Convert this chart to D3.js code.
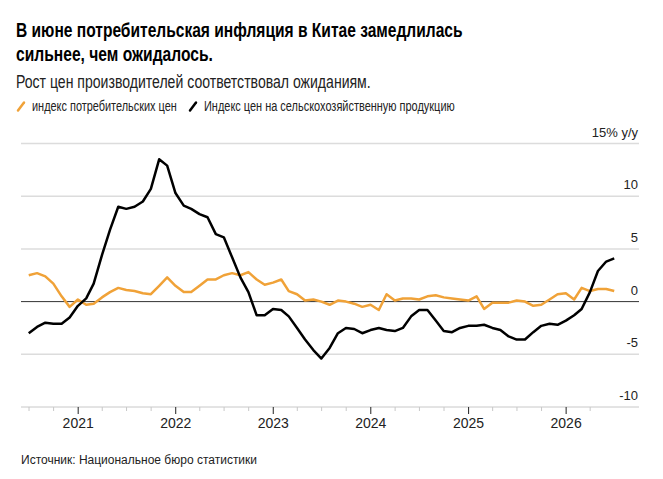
<!DOCTYPE html>
<html>
<head>
<meta charset="utf-8">
<script src="https://cdn.jsdelivr.net/npm/d3@7"></script>
<style>
  body { margin: 0; background: #fff; }
  svg { display: block; }
  .narrow { font-family: 'Liberation Sans', Arial, sans-serif; }
  .reg { font-family: 'Liberation Sans', Arial, sans-serif; }
</style>
</head>
<body>
<svg></svg>
<script>
// monthly values, Jun 2020 .. Jun 2026
const firstMonth = '2020-06';
const cpi = [
  2.5, 2.7, 2.4, 1.7, 0.5, -0.5, 0.2,
  -0.3, -0.2, 0.4, 0.9, 1.3, 1.1, 1.0, 0.8, 0.7, 1.5, 2.3, 1.5,
  0.9, 0.9, 1.5, 2.1, 2.1, 2.5, 2.7, 2.5, 2.8, 2.1, 1.6, 1.8,
  2.1, 1.0, 0.7, 0.1, 0.2, 0.0, -0.3, 0.1, 0.0, -0.2, -0.5, -0.3,
  -0.8, 0.7, 0.1, 0.3, 0.3, 0.2, 0.5, 0.6, 0.4, 0.3, 0.2, 0.1,
  0.5, -0.7, -0.1, -0.1, -0.1, 0.1, 0.0, -0.4, -0.3, 0.2, 0.7, 0.8,
  0.2, 1.3, 1.0, 1.2, 1.2, 1.0
];
const farm = [
  -3.0, -2.4, -2.0, -2.1, -2.1, -1.5, -0.4,
  0.3, 1.7, 4.4, 6.8, 9.0, 8.8, 9.0, 9.5, 10.7, 13.5, 12.9, 10.3,
  9.1, 8.8, 8.3, 8.0, 6.4, 6.1, 4.2, 2.3, 0.9, -1.3, -1.3, -0.7,
  -0.8, -1.4, -2.5, -3.6, -4.6, -5.4, -4.4, -3.0, -2.5, -2.6, -3.0, -2.7,
  -2.5, -2.7, -2.8, -2.5, -1.4, -0.8, -0.8, -1.8, -2.8, -2.9, -2.5, -2.3,
  -2.3, -2.2, -2.5, -2.7, -3.3, -3.6, -3.6, -2.9, -2.3, -2.1, -2.2, -1.8,
  -1.3, -0.7, 0.9, 2.9, 3.8, 4.1
];
const seriesNames = ['индекс потребительских цен', 'Индекс цен на сельскохозяйственную продукцию'];
const yTicks = [15, 10, 5, 0, -5, -10];
const yearLabels = ['2021', '2022', '2023', '2024', '2025', '2026'];

const width = 663, height = 479;
const svg = d3.select('svg').attr('width', width).attr('height', height);

const parseMonth = d3.timeParse('%Y-%m');
const start = parseMonth(firstMonth);
// points sit at the end of each month
const dates = cpi.map((_, i) => new Date(start.getFullYear(), start.getMonth() + i + 1, 0));

const x = d3.scaleTime()
  .domain([start, d3.timeMonth.offset(start, cpi.length)])
  .range([21, 614.5]);
const y = d3.scaleLinear().domain([-10, 15]).range([407, 143.5]);
const gridRight = 639;

// narrow headline text: squeeze regular face horizontally to the condensed width
const narrowText = (g, str, xPos, yPos, size, len, weight, color) => {
  const t = g.append('text').attr('class', 'narrow')
    .attr('font-size', size).attr('font-weight', weight).attr('fill', color)
    .text(str);
  const natural = t.node().getComputedTextLength();
  t.attr('transform', `translate(${xPos},${yPos}) scale(${len / natural},1)`);
  return t;
};

narrowText(svg, 'В июне потребительская инфляция в Китае замедлилась', 16, 37, 21, 447, 'bold', '#000');
narrowText(svg, 'сильнее, чем ожидалось.', 16, 60.5, 21, 197, 'bold', '#000');
narrowText(svg, 'Рост цен производителей соответствовал ожиданиям.', 16, 87.5, 18.5, 355, 'normal', '#222');

// legend
const legend = svg.append('g');
const legendItems = [
  { name: seriesNames[0], color: '#f0a238', x: 18, tx: 32, len: 145 },
  { name: seriesNames[1], color: '#000', x: 190, tx: 204, len: 251 }
];
legendItems.forEach(d => {
  legend.append('line')
    .attr('x1', d.x).attr('y1', 110.5).attr('x2', d.x + 6).attr('y2', 102.5)
    .attr('stroke', d.color).attr('stroke-width', 2.5).attr('stroke-linecap', 'round');
  narrowText(legend, d.name, d.tx, 110.5, 15, d.len, 'normal', '#222');
});

// grid
const grid = svg.append('g');
grid.selectAll('line')
  .data(yTicks.filter(v => v !== 0 && v !== -10))
  .enter().append('line')
  .attr('x1', 21).attr('x2', gridRight)
  .attr('y1', v => y(v)).attr('y2', v => y(v))
  .attr('stroke', '#dcdcdc').attr('stroke-width', 1.5);

// y labels
svg.append('g').attr('class', 'reg').attr('font-size', 13).attr('fill', '#222')
  .selectAll('text')
  .data(yTicks)
  .enter().append('text')
  .attr('x', 638).attr('y', v => y(v) - 7)
  .attr('text-anchor', 'end')
  .text(v => v === 15 ? '15% y/y' : String(v));

// x axis
const axisG = svg.append('g');
axisG.append('line')
  .attr('x1', 21).attr('x2', gridRight).attr('y1', y(-10)).attr('y2', y(-10))
  .attr('stroke', '#c8c8c8').attr('stroke-width', 1);
const ticks = d3.timeMonth.every(3).range(start, d3.timeMonth.offset(start, cpi.length));
axisG.selectAll('.tick')
  .data(ticks)
  .enter().append('line')
  .attr('x1', d => x(d)).attr('x2', d => x(d))
  .attr('y1', y(-10))
  .attr('y2', d => y(-10) + (d.getMonth() === 0 ? 7 : 4))
  .attr('stroke', d => d.getMonth() === 0 ? '#222' : '#c8c8c8')
  .attr('stroke-width', 1);
axisG.selectAll('.year')
  .data(yearLabels)
  .enter().append('text')
  .attr('class', 'reg')
  .attr('x', d => x(d3.timeParse('%Y')(d)))
  .attr('y', 428)
  .attr('text-anchor', 'middle')
  .attr('font-size', 14).attr('fill', '#222')
  .text(d => d);

// zero line
svg.append('line')
  .attr('x1', 21).attr('x2', gridRight).attr('y1', y(0)).attr('y2', y(0))
  .attr('stroke', '#333').attr('stroke-width', 1);

const line = d3.line()
  .x((d, i) => x(dates[i]))
  .y(d => y(d));

svg.append('path').datum(cpi)
  .attr('fill', 'none').attr('stroke', '#f0a238').attr('stroke-width', 2.5)
  .attr('stroke-linejoin', 'round')
  .attr('d', line);
svg.append('path').datum(farm)
  .attr('fill', 'none').attr('stroke', '#000').attr('stroke-width', 2.5)
  .attr('stroke-linejoin', 'round')
  .attr('d', line);

// source
svg.append('text').attr('class', 'reg')
  .attr('x', 21).attr('y', 464)
  .attr('font-size', 12).attr('fill', '#222')
  .text('Источник: Национальное бюро статистики');
</script>
</body>
</html>
